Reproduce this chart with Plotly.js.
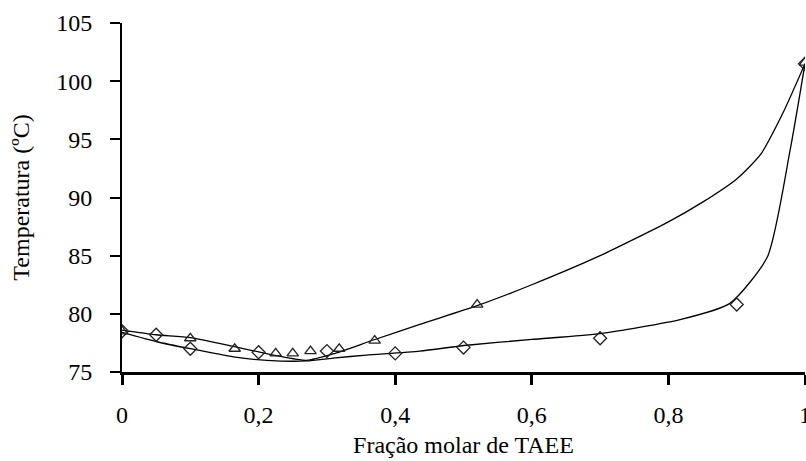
<!DOCTYPE html>
<html>
<head>
<meta charset="utf-8">
<script src="https://cdn.plot.ly/plotly-3.0.1.min.js"></script>
<style>html,body{margin:0;padding:0;background:#fff;}#chart{width:806px;height:461px;}</style>
</head>
<body>
<div id="chart"></div>
<script>
// Experimental points
var diamondX = [0, 0.05, 0.1, 0.2, 0.3, 0.4, 0.5, 0.7, 0.9, 1.0];
var diamondT = [78.5, 78.2, 77.0, 76.7, 76.8, 76.6, 77.1, 77.9, 80.8, 101.5];
var triangleX = [0, 0.1, 0.165, 0.225, 0.25, 0.276, 0.318, 0.37, 0.52, 1.0];
var triangleT = [78.5, 77.9, 77.0, 76.6, 76.6, 76.8, 77.0, 77.7, 80.8, 101.6];

// Fitted curves
var upperX = [0, 0.05, 0.1, 0.163, 0.226, 0.27, 0.309, 0.368, 0.436, 0.52, 0.6, 0.7, 0.8, 0.85, 0.9, 0.935, 0.968, 1.0];
var upperT = [78.6, 78.2, 77.95, 77.2, 76.4, 76.0, 76.55, 77.75, 79.1, 80.7, 82.5, 85.0, 87.9, 89.6, 91.6, 93.7, 97.3, 101.5];
var lowerX = [0, 0.051, 0.1, 0.163, 0.212, 0.27, 0.309, 0.358, 0.436, 0.505, 0.6, 0.7, 0.817, 0.89, 0.945, 0.978, 1.0];
var lowerT = [78.4, 77.6, 77.0, 76.3, 76.0, 75.95, 76.2, 76.45, 76.8, 77.3, 77.8, 78.3, 79.5, 80.9, 84.9, 94.0, 101.5];

var xTicks = [0, 0.2, 0.4, 0.6, 0.8, 1];
var xTickText = ['0', '0,2', '0,4', '0,6', '0,8', '1'];
var yTicks = [75, 80, 85, 90, 95, 100, 105];

var font = "'Liberation Serif', 'Times New Roman', serif";

var traces = [
  {x: upperX, y: upperT, mode: 'lines', line: {color: '#000', width: 1.3, shape: 'spline', smoothing: 0.6}, hoverinfo: 'skip'},
  {x: lowerX, y: lowerT, mode: 'lines', line: {color: '#000', width: 1.3, shape: 'spline', smoothing: 0.6}, hoverinfo: 'skip'},
  {x: diamondX, y: diamondT, mode: 'markers', marker: {symbol: 'diamond-open', size: 10, color: '#222', line: {width: 1.3, color: '#222'}}},
  {x: triangleX, y: triangleT, mode: 'markers', marker: {symbol: 'triangle-up-open', size: 10, color: '#222', line: {width: 1.3, color: '#222'}}}
];

var layout = {
  width: 806, height: 461,
  margin: {l: 122, r: 1, t: 23, b: 89},
  paper_bgcolor: '#fff', plot_bgcolor: '#fff',
  showlegend: false,
  font: {family: font, size: 24, color: '#000'},
  xaxis: {
    range: [0, 1], tickvals: xTicks, ticktext: xTickText,
    showgrid: false, zeroline: false, showline: true, linecolor: '#000', linewidth: 3,
    ticks: 'outside', ticklen: 10, tickwidth: 3, tickcolor: '#000',
    ticklabelstandoff: 9, ticklabeloverflow: 'allow',
    tickfont: {family: font, size: 24, color: '#000'},
    title: {text: 'Fração molar de TAEE', font: {family: font, size: 24, color: '#000'}, standoff: 10}
  },
  yaxis: {
    range: [75, 105], tickvals: yTicks,
    showgrid: false, zeroline: false, showline: true, linecolor: '#000', linewidth: 2,
    ticks: 'outside', ticklen: 10, tickwidth: 2, tickcolor: '#000',
    ticklabelstandoff: 13, ticklabeloverflow: 'allow',
    tickfont: {family: font, size: 24, color: '#000'},
    title: {text: 'Temperatura (ºC)', font: {family: font, size: 24, color: '#000'}, standoff: 20}
  }
};

Plotly.newPlot('chart', traces, layout, {staticPlot: true, displayModeBar: false});
</script>
</body>
</html>
